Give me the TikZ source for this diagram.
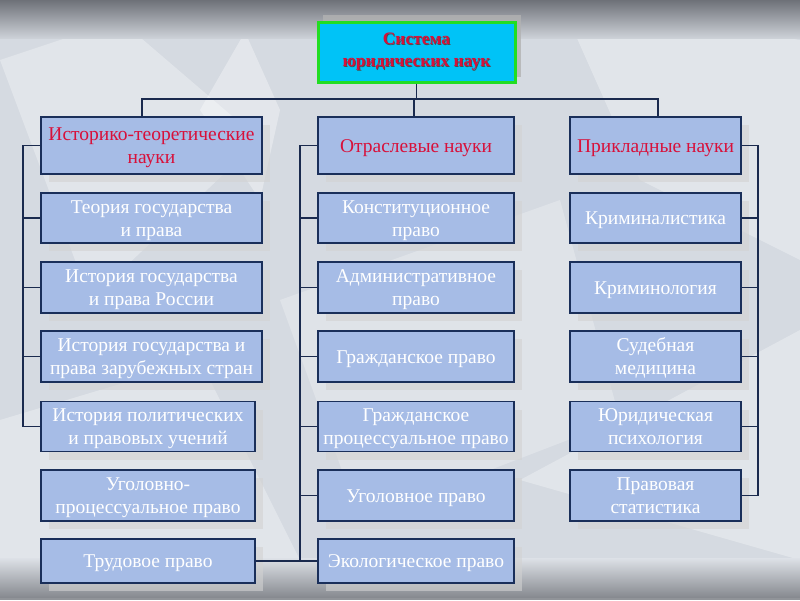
\documentclass[tikz,border=0pt]{standalone}
\usepackage{fontspec}
\setmainfont{Liberation Serif}
\usetikzlibrary{shadows}
\definecolor{boxfill}{HTML}{A6BCE6}
\definecolor{boxline}{HTML}{1A2F5A}
\definecolor{hdrred}{HTML}{D8103A}
\definecolor{topcyan}{HTML}{00C3F7}
\definecolor{topgreen}{HTML}{22DD22}
\definecolor{wire}{HTML}{1A2A4E}
\definecolor{bgbase}{HTML}{D5DAE1}
\definecolor{bgdark}{HTML}{6E7178}
\definecolor{bgdark2}{HTML}{85888E}
\newcommand{\bxt}[1]{\raisebox{-7.5pt}[0pt][0pt]{\begin{tabular}{@{}c@{}}#1\end{tabular}}}
\tikzset{
  box/.style={draw=boxline, line width=1.2pt, fill=boxfill, text=white,
    font=\fontsize{19.5}{23}\selectfont, inner sep=0pt,
    drop shadow={shadow xshift=8pt, shadow yshift=-8pt, fill=gray!35, opacity=0.6}},
  hdr/.style={box, text=hdrred},
  wirestyle/.style={draw=wire, line width=1.2pt},
}
\begin{document}
\begin{tikzpicture}[x=1pt,y=-1pt]
\useasboundingbox (0,0) rectangle (800,600);
% background
\fill[bgbase] (0,0) rectangle (800,600);
\fill[white, opacity=0.3] (0,60) -- (120,20) -- (260,140) -- (90,300) -- cycle;
\fill[white, opacity=0.35] (200,110) -- (245,32) -- (280,110) -- (260,200) -- cycle;
\fill[white, opacity=0.3] (560,0) -- (800,40) -- (800,260) -- (640,180) -- cycle;
\fill[white, opacity=0.25] (280,300) -- (560,200) -- (620,420) -- (360,520) -- cycle;
\fill[white, opacity=0.3] (0,420) -- (200,360) -- (300,560) -- (0,580) -- cycle;
\fill[white, opacity=0.3] (520,480) -- (800,330) -- (800,560) -- cycle;
\shade[top color=bgdark, bottom color=bgbase!90!gray] (0,0) rectangle (800,38);
\shade[top color=bgbase!80!white, bottom color=bgdark2] (0,558) rectangle (800,598);
\fill[bgdark2!90!white] (0,598) rectangle (800,600);
% top box
\fill[gray!60, opacity=0.8] (323,15) rectangle (521,77);
\node[draw=topgreen, line width=3pt, fill=topcyan, minimum width=197pt, minimum height=60pt,
  inner sep=0pt, align=center] (top) at (416.5,52) {};
\node[text=black!70, align=center, font=\bfseries\fontsize{17.5}{22}\selectfont] (topshadow) at (417.3,52.8) {Система\\юридических наук};
\node[text=hdrred, align=center, font=\bfseries\fontsize{17.5}{22}\selectfont] (toptext) at (416.5,52) {Система\\юридических наук};
% headers
\node[hdr, minimum width=221pt, minimum height=57pt] (h1) at (151.5,145.5) {\bxt{Историко-теоретические\\науки}};
\node[hdr, minimum width=196pt, minimum height=57pt] (h2) at (416,145.5) {\bxt{Отраслевые науки}};
\node[hdr, minimum width=171pt, minimum height=57pt] (h3) at (655.5,145.5) {\bxt{Прикладные науки}};
% left column
\node[box, minimum width=221pt, minimum height=50pt] (l1) at (151.5,218) {\bxt{Теория государства\\и права}};
\node[box, minimum width=221pt, minimum height=51pt] (l2) at (151.5,287.5) {\bxt{История государства\\и права России}};
\node[box, minimum width=221pt, minimum height=51pt] (l3) at (151.5,356.5) {\bxt{История государства и\\права зарубежных стран}};
\node[box, minimum width=214pt, minimum height=50pt] (l4) at (148,426.5) {\bxt{История политических\\и правовых учений}};
\node[box, minimum width=214pt, minimum height=51pt] (l5) at (148,495.5) {\bxt{Уголовно-\\процессуальное право}};
\node[box, minimum width=214pt, minimum height=44pt] (l6) at (148,561) {\bxt{Трудовое право}};
% middle column
\node[box, minimum width=196pt, minimum height=50pt] (m1) at (416,218) {\bxt{Конституционное\\право}};
\node[box, minimum width=196pt, minimum height=51pt] (m2) at (416,287.5) {\bxt{Административное\\право}};
\node[box, minimum width=196pt, minimum height=51pt] (m3) at (416,356.5) {\bxt{Гражданское право}};
\node[box, minimum width=196pt, minimum height=50pt] (m4) at (416,426.5) {\bxt{Гражданское\\процессуальное право}};
\node[box, minimum width=196pt, minimum height=51pt] (m5) at (416,495.5) {\bxt{Уголовное право}};
\node[box, minimum width=196pt, minimum height=44pt] (m6) at (416,561) {\bxt{Экологическое право}};
% right column
\node[box, minimum width=171pt, minimum height=50pt] (r1) at (655.5,218) {\bxt{Криминалистика}};
\node[box, minimum width=171pt, minimum height=51pt] (r2) at (655.5,287.5) {\bxt{Криминология}};
\node[box, minimum width=171pt, minimum height=51pt] (r3) at (655.5,356.5) {\bxt{Судебная\\медицина}};
\node[box, minimum width=171pt, minimum height=50pt] (r4) at (655.5,426.5) {\bxt{Юридическая\\психология}};
\node[box, minimum width=171pt, minimum height=51pt] (r5) at (655.5,495.5) {\bxt{Правовая\\статистика}};
% connectors
\coordinate (hb) at (0,99);
\coordinate (lb) at (23,0);
\coordinate (mb) at (300,0);
\coordinate (rb) at (758,0);
\draw[wirestyle] (top.south) -- (top.south |- hb);
\draw[wirestyle] ([xshift=-9.5pt]h1.north) -- ([xshift=-9.5pt]h1.north |- hb) -- ([xshift=2.5pt]h3.north |- hb) -- ([xshift=2.5pt]h3.north);
\draw[wirestyle] ([xshift=-2pt]h2.north) -- ([xshift=-2pt]h2.north |- hb);
% left bus
\draw[wirestyle] (h1.west) -| (lb |- l4.west) -- (l4.west);
\foreach \n in {l1,l2,l3} \draw[wirestyle] (lb |- \n.west) -- (\n.west);
% middle bus
\draw[wirestyle] (h2.west) -| (mb |- m6.west);
\draw[wirestyle] (l6.east) -- (m6.west);
\foreach \n in {m1,m2,m3,m4,m5} \draw[wirestyle] (mb |- \n.west) -- (\n.west);
% right bus
\draw[wirestyle] (h3.east) -| (rb |- r5.east) -- (r5.east);
\foreach \n in {r1,r2,r3,r4} \draw[wirestyle] (rb |- \n.east) -- (\n.east);
\end{tikzpicture}
\end{document}
